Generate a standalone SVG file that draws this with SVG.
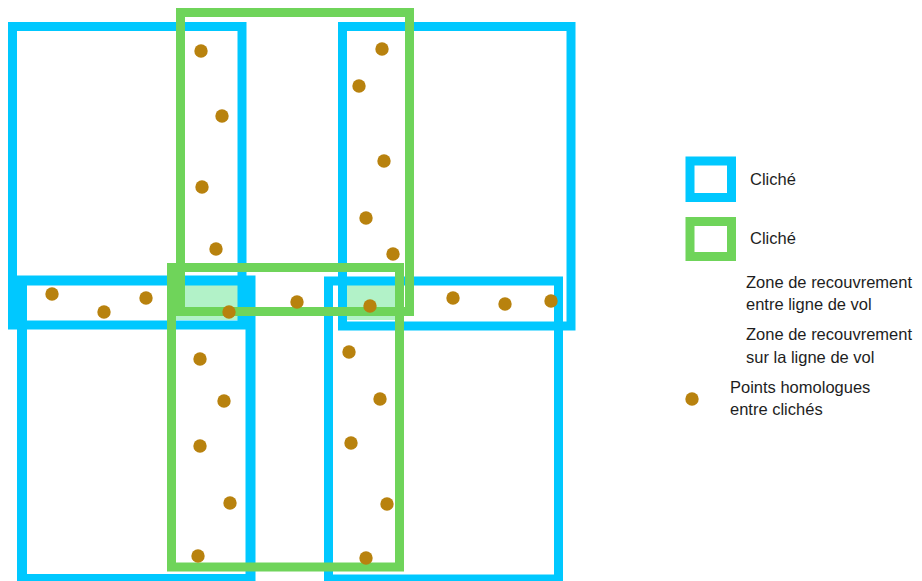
<svg xmlns="http://www.w3.org/2000/svg" width="922" height="581" viewBox="0 0 922 581">
<style>
.blue{fill:none;stroke:#00c8ff;stroke-width:9}
.green{fill:none;stroke:#6fd45a;stroke-width:9}
.zone{fill:#b2f2c8;stroke:none}
.pt{fill:#b8820e}
.lbl{font-family:"Liberation Sans",Arial,sans-serif;font-size:16.5px;fill:#1e1e1e}
</style>
<rect width="922" height="581" fill="#ffffff"/>
<g id="zones">
<rect class="zone" x="176" y="285" width="62" height="35"/>
<rect class="zone" x="345" y="285" width="52" height="35"/>
</g>
<g id="cliche-blue-1"><rect class="blue" x="12.5" y="26.5" width="229.5" height="298.5"/></g>
<g id="cliche-blue-2"><rect class="blue" x="342.5" y="26.5" width="228.5" height="299.5"/></g>
<g id="cliche-blue-3"><rect class="blue" x="22" y="280.5" width="228.5" height="298.5" style="stroke-width:10"/></g>
<g id="cliche-blue-4"><rect class="blue" x="328.5" y="281" width="230" height="298"/></g>
<g id="cliche-green-1"><rect class="green" x="180.5" y="12.5" width="229" height="299"/></g>
<g id="cliche-green-2"><rect class="green" x="171.5" y="267.5" width="228" height="299.5"/></g>
<g id="points">
<circle class="pt" cx="201" cy="51" r="6.7"/>
<circle class="pt" cx="222" cy="116" r="6.7"/>
<circle class="pt" cx="202" cy="187" r="6.7"/>
<circle class="pt" cx="216" cy="249" r="6.7"/>
<circle class="pt" cx="52" cy="294" r="6.7"/>
<circle class="pt" cx="104" cy="312" r="6.7"/>
<circle class="pt" cx="146" cy="298" r="6.7"/>
<circle class="pt" cx="229" cy="312" r="6.7"/>
<circle class="pt" cx="297" cy="302" r="6.7"/>
<circle class="pt" cx="382" cy="49" r="6.7"/>
<circle class="pt" cx="359" cy="86" r="6.7"/>
<circle class="pt" cx="384" cy="161" r="6.7"/>
<circle class="pt" cx="366" cy="218" r="6.7"/>
<circle class="pt" cx="393" cy="254" r="6.7"/>
<circle class="pt" cx="370" cy="306" r="6.7"/>
<circle class="pt" cx="453" cy="298" r="6.7"/>
<circle class="pt" cx="505" cy="304" r="6.7"/>
<circle class="pt" cx="551" cy="301" r="6.7"/>
<circle class="pt" cx="200" cy="359" r="6.7"/>
<circle class="pt" cx="224" cy="401" r="6.7"/>
<circle class="pt" cx="200" cy="446" r="6.7"/>
<circle class="pt" cx="230" cy="503" r="6.7"/>
<circle class="pt" cx="198" cy="556" r="6.7"/>
<circle class="pt" cx="349" cy="352" r="6.7"/>
<circle class="pt" cx="380" cy="399" r="6.7"/>
<circle class="pt" cx="351" cy="443" r="6.7"/>
<circle class="pt" cx="387" cy="504" r="6.7"/>
<circle class="pt" cx="366" cy="558" r="6.7"/>
</g>
<g id="legend">
<g id="legend-blue"><rect class="blue" x="690" y="161" width="41.5" height="36.5" fill="#fff"/><text class="lbl" x="750" y="185">Cliché</text></g>
<g id="legend-green"><rect class="green" x="690" y="221.5" width="41.5" height="35"/><text class="lbl" x="750" y="244">Cliché</text></g>
<g id="legend-zone-entre"><text class="lbl" x="746" y="288">Zone de recouvrement</text><text class="lbl" x="746" y="310">entre ligne de vol</text></g>
<g id="legend-zone-sur"><text class="lbl" x="746" y="340">Zone de recouvrement</text><text class="lbl" x="746" y="362.5">sur la ligne de vol</text></g>
<g id="legend-points"><circle class="pt" cx="692" cy="399" r="6.7"/><text class="lbl" x="730" y="393">Points homologues</text><text class="lbl" x="730" y="415">entre clichés</text></g>
</g>
</svg>
